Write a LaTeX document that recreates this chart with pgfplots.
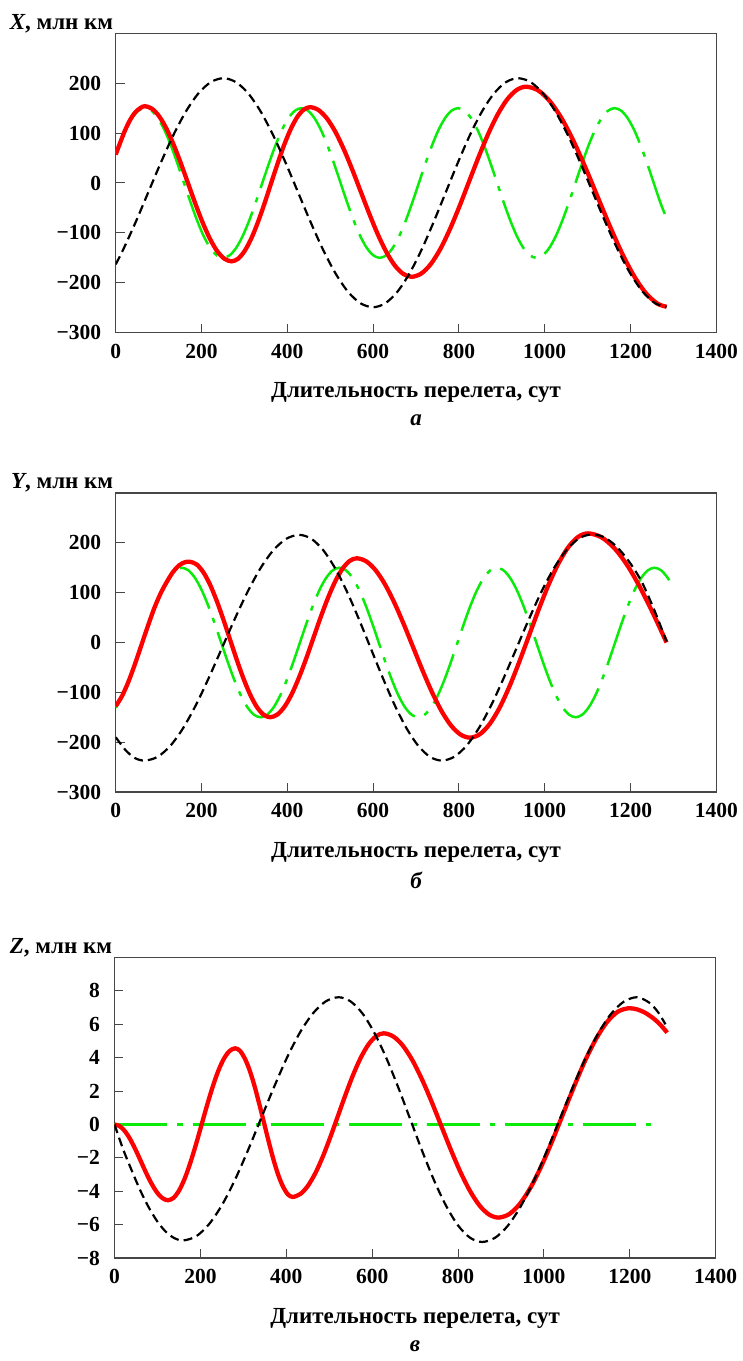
\documentclass[border=0pt]{standalone}
\usepackage{fontspec}
\setmainfont{Liberation Serif}
\usepackage{pgfplots}
\pgfplotsset{compat=1.18}
\definecolor{cred}{RGB}{255,0,0}
\definecolor{cgreen}{RGB}{10,235,10}
\definecolor{axgray}{RGB}{70,70,70}
\newcommand{\bigf}{\fontsize{23}{27}\selectfont\bfseries}
\newcommand{\tickf}{\fontsize{21.5}{25}\selectfont\bfseries}
\pgfplotsset{
  myaxis/.style={
    scale only axis, width=600.6pt, xmin=0, xmax=1400,
    axis line style={axgray, line width=1.3pt},
    tick style={axgray, line width=1pt},
    tick align=inside, tick pos=left, major tick length=9pt,
    xtick={0,200,400,600,800,1000,1200,1400},
    xticklabels={0,200,400,600,800,1000,1200,1400},
    ticklabel style={font=\tickf},
    xticklabel style={yshift=-8pt},
    yticklabel style={xshift=-11pt},
    every axis x label/.style={at={(rel axis cs:0.5,0)}, anchor=center, yshift=-60pt, font=\bigf},
    every axis y label/.style={at={(rel axis cs:0,1)}, anchor=base east, xshift=1pt, yshift=4pt, font=\bigf},
    xlabel={Длительность перелета, сут},
  },
  redl/.style={cred, line width=4.3pt, smooth},
  blkl/.style={black, line width=2.2pt, dash pattern=on 9pt off 5pt, smooth},
  grnl/.style={cgreen, line width=2.5pt, dash pattern=on 53pt off 10pt on 5pt off 10pt, smooth},
}
\begin{document}
\begin{tikzpicture}
\useasboundingbox (0,0) rectangle (743pt,1361pt);
% ---------------- panel a
\begin{axis}[myaxis, name=axa, at={(115.7pt,1028.3pt)}, anchor=south west,
  height=299.4pt, ymin=-300, ymax=300,
  ytick={-300,-200,-100,0,100,200},
  yticklabels={−300,−200,−100,0,100,200},
  ylabel={\textit{X}, млн км}]
\addplot[grnl] coordinates {(0,58.6) (7.2,75) (22.4,106.1) (37.6,129.9) (52.8,144.9) (68,150) (83.2,144.9) (98.4,129.9) (113.6,106.1) (128.8,75) (144,38.8) (159.2,0) (174.5,-38.8) (189.7,-75) (204.9,-106.1) (220.1,-129.9) (235.3,-144.9) (250.5,-150) (265.7,-144.9) (280.9,-129.9) (296.1,-106.1) (311.3,-75) (326.5,-38.8) (341.7,0) (357,38.8) (372.2,75) (387.4,106.1) (402.6,129.9) (417.8,144.9) (433,150) (448.2,144.9) (463.4,129.9) (478.6,106.1) (493.8,75) (509,38.8) (524.2,0) (539.4,-38.8) (554.7,-75) (569.9,-106.1) (585.1,-129.9) (600.3,-144.9) (615.5,-150) (630.7,-144.9) (645.9,-129.9) (661.1,-106.1) (676.3,-75) (691.5,-38.8) (706.7,0) (721.9,38.8) (737.2,75) (752.4,106.1) (767.6,129.9) (782.8,144.9) (798,150) (813.2,144.9) (828.4,129.9) (843.6,106.1) (858.8,75) (874,38.8) (889.2,0) (904.4,-38.8) (919.7,-75) (934.9,-106.1) (950.1,-129.9) (965.3,-144.9) (980.5,-150) (995.7,-144.9) (1010.9,-129.9) (1026.1,-106.1) (1041.3,-75) (1056.5,-38.8) (1071.7,0) (1086.9,38.8) (1102.1,75) (1117.4,106.1) (1132.6,129.9) (1147.8,144.9) (1163,150) (1178.2,144.9) (1193.4,129.9) (1208.6,106.1) (1223.8,75) (1239,38.8) (1254.2,0) (1269.4,-38.8) (1280,-62)};
\addplot[redl] coordinates {(0,57) (11,82) (22,106) (34,127) (45,141) (57,150) (68,154) (84.8,148.7) (101.7,133.2) (118.5,108.5) (135.3,76.3) (152.2,38.7) (169,-1.5) (185.8,-41.7) (202.7,-79.3) (219.5,-111.5) (236.3,-136.2) (253.2,-151.7) (270,-157) (285.3,-151.7) (300.5,-136.3) (315.8,-111.7) (331,-79.75) (346.3,-42.5) (361.5,-2.5) (376.8,37.5) (392,74.75) (407.3,106.7) (422.5,131.3) (437.8,146.7) (453,152) (472.8,146.2) (492.5,129.2) (512.3,102.2) (532,67) (551.8,26) (571.5,-18) (591.3,-62) (611,-103) (630.8,-138.2) (650.5,-165.2) (670.3,-182.2) (690,-188) (712.3,-181.5) (734.5,-162.5) (756.8,-132.2) (779,-92.75) (801.3,-46.8) (823.5,2.5) (845.8,51.8) (868,97.75) (890.3,137.2) (912.5,167.5) (934.8,186.5) (957,193) (984.8,185.5) (1012.5,163.4) (1040.3,128.3) (1068,82.5) (1095.8,29.2) (1123.5,-28) (1151.3,-85.2) (1179,-138.5) (1206.8,-184.3) (1234.5,-219.4) (1262.3,-241.5) (1284,-248)};
\addplot[blkl] coordinates {(0,-163) (17,-134.3) (46.3,-78.9) (75.5,-19.5) (104.8,39.9) (134,95.3) (163.3,142.8) (192.5,179.3) (221.8,202.2) (251,210) (280.1,202.2) (309.2,179.3) (338.2,142.8) (367.3,95.3) (396.4,39.9) (425.5,-19.5) (454.6,-78.9) (483.7,-134.3) (512.8,-181.8) (541.8,-218.3) (570.9,-241.2) (600,-249) (628.2,-241.2) (656.3,-218.3) (684.5,-181.8) (712.7,-134.3) (740.8,-78.9) (769,-19.5) (797.2,39.9) (825.3,95.3) (853.5,142.8) (881.7,179.3) (909.8,202.2) (938,210) (967.1,202.2) (996.2,179.3) (1025.2,142.8) (1054.3,95.3) (1083.4,39.9) (1112.5,-19.5) (1141.6,-78.9) (1170.7,-134.3) (1199.8,-181.8) (1228.8,-218.3) (1257.9,-241.2) (1284,-248.5)};
\end{axis}
\node[font=\bigf\itshape] at ([yshift=-88pt]axa.south) {а};
% ---------------- panel b
\begin{axis}[myaxis, name=axb, at={(115.7pt,569pt)}, anchor=south west,
  height=299pt, ymin=-300, ymax=300,
  ytick={-300,-200,-100,0,100,200},
  yticklabels={−300,−200,−100,0,100,200},
  ylabel={\textit{Y}, млн км}]
\addplot[grnl] coordinates {(0,-131) (16.3,-106.1) (31.6,-75) (46.9,-38.8) (62.2,0) (77.5,38.8) (92.8,75) (108.1,106.1) (123.4,129.9) (138.7,144.9) (154,150) (169.3,144.9) (184.6,129.9) (199.9,106.1) (215.2,75) (230.5,38.8) (245.8,0) (261.1,-38.8) (276.4,-75) (291.7,-106.1) (307,-129.9) (322.3,-144.9) (337.6,-150) (353,-144.9) (368.3,-129.9) (383.6,-106.1) (398.9,-75) (414.2,-38.8) (429.5,0) (444.8,38.8) (460.1,75) (475.4,106.1) (490.7,129.9) (506,144.9) (521.3,150) (536.6,144.9) (551.9,129.9) (567.2,106.1) (582.5,75) (597.8,38.8) (613.1,0) (628.4,-38.8) (643.7,-75) (659,-106.1) (674.3,-129.9) (689.6,-144.9) (704.9,-150) (720.2,-144.9) (735.6,-129.9) (750.9,-106.1) (766.2,-75) (781.5,-38.8) (796.8,0) (812.1,38.8) (827.4,75) (842.7,106.1) (858,129.9) (873.3,144.9) (888.6,150) (903.9,144.9) (919.2,129.9) (934.5,106.1) (949.8,75) (965.1,38.8) (980.4,0) (995.7,-38.8) (1011,-75) (1026.3,-106.1) (1041.6,-129.9) (1056.9,-144.9) (1072.2,-150) (1087.5,-144.9) (1102.8,-129.9) (1118.2,-106.1) (1133.5,-75) (1148.8,-38.8) (1164.1,0) (1179.4,38.8) (1194.7,75) (1210,106.1) (1225.3,129.9) (1240.6,144.9) (1255.9,150) (1271.2,144.9) (1286.5,129.9) (1299,111)};
\addplot[redl] coordinates {(0,-128) (15,-107) (30,-78) (45,-43) (60,-5) (75,33) (90,69) (105,99) (120,123) (134,142) (148,155) (161,161) (173,162) (188.6,156.7) (204.2,141.1) (219.8,116.3) (235.3,84) (250.9,46.4) (266.5,6) (282.1,-34.4) (297.7,-72) (313.3,-104.3) (328.8,-129.1) (344.4,-144.7) (360,-150) (376.8,-144.6) (393.7,-128.6) (410.5,-103.3) (427.3,-70.25) (444.2,-31.8) (461,9.5) (477.8,50.8) (494.7,89.25) (511.5,122.3) (528.3,147.6) (545.2,163.6) (562,169) (584,162.9) (606,144.9) (628,116.3) (650,79) (672,35.6) (694,-11) (716,-57.6) (738,-101) (760,-138.3) (782,-166.9) (804,-184.9) (826,-191) (848.9,-184) (871.8,-163.5) (894.8,-131) (917.7,-88.5) (940.6,-39.1) (963.5,14) (986.4,67.1) (1009.3,116.5) (1032.3,159) (1055.2,191.5) (1078.1,212) (1101,219) (1131.5,211.5) (1162,189.7) (1192.5,154.9) (1223,109.5) (1253.5,56.7) (1284,0)};
\addplot[blkl] coordinates {(0,-190) (23,-216) (45,-232) (68,-237) (98,-229.3) (128,-206.7) (158,-170.7) (188,-123.75) (218,-69.1) (248,-10.5) (278,48.1) (308,102.75) (338,149.7) (368,185.7) (398,208.3) (428,216) (455.7,208.3) (483.3,185.7) (511,149.7) (538.7,102.75) (566.3,48.1) (594,-10.5) (621.7,-69.1) (649.3,-123.75) (677,-170.7) (704.7,-206.7) (732.3,-229.3) (760,-237) (789.2,-229.3) (818.3,-206.6) (847.5,-170.5) (876.7,-123.5) (905.8,-68.7) (935,-10) (964.2,48.7) (993.3,103.5) (1022.5,150.5) (1051.7,186.6) (1080.8,209.3) (1110,217) (1139,211) (1168,192) (1197,162) (1226,122) (1255,66) (1284,2)};
\end{axis}
\node[font=\bigf\itshape] at ([yshift=-88pt]axb.south) {б};
% ---------------- panel c
\begin{axis}[myaxis, name=axc, at={(114.5pt,103pt)}, anchor=south west,
  width=601.2pt, height=300.5pt, ymin=-8, ymax=10,
  ytick={-8,-6,-4,-2,0,2,4,6,8},
  yticklabels={−8,−6,−4,−2,0,2,4,6,8},
  ylabel={\textit{Z}, млн км}]
\addplot[grnl] coordinates {(0,0) (1262,0)};
\addplot[redl] coordinates {(0,0) (10.4,-0.08) (20.8,-0.30) (31.3,-0.66) (41.7,-1.135) (52.1,-1.68) (62.5,-2.27) (72.9,-2.86) (83.3,-3.405) (93.8,-3.875) (104.2,-4.24) (114.6,-4.46) (125,-4.54) (138,-4.39) (151,-3.93) (164,-3.21) (177,-2.265) (190,-1.17) (203,0.01) (216,1.19) (229,2.285) (242,3.23) (255,3.95) (268,4.40) (281,4.56) (292.2,4.41) (303.3,3.96) (314.5,3.26) (325.7,2.335) (336.8,1.26) (348,0.11) (359.2,-1.04) (370.3,-2.115) (381.5,-3.04) (392.7,-3.74) (403.8,-4.19) (415,-4.34) (432.7,-4.17) (450.3,-3.68) (468,-2.905) (485.7,-1.89) (503.3,-0.71) (521,0.56) (538.7,1.83) (556.3,3.01) (574,4.025) (591.7,4.80) (609.3,5.29) (627,5.46) (649.3,5.27) (671.5,4.72) (693.8,3.84) (716,2.70) (738.3,1.37) (760.5,-0.06) (782.8,-1.49) (805,-2.82) (827.3,-3.96) (849.5,-4.84) (871.8,-5.39) (894,-5.58) (919.3,-5.37) (944.5,-4.74) (969.8,-3.74) (995,-2.445) (1020.3,-0.93) (1045.5,0.69) (1070.8,2.31) (1096,3.825) (1121.3,5.12) (1146.5,6.12) (1171.8,6.75) (1197,6.96) (1217,6.89) (1237,6.67) (1257,6.31) (1272,5.95) (1287,5.5)};
\addplot[blkl] coordinates {(0,0) (20,-1.48) (40,-2.75) (60,-3.95) (80,-4.98) (100,-5.82) (120,-6.44) (140,-6.82) (160,-6.95) (190.2,-6.70) (220.3,-5.97) (250.5,-4.82) (280.7,-3.31) (310.8,-1.55) (341,0.34) (371.2,2.22) (401.3,3.98) (431.5,5.49) (461.7,6.64) (491.8,7.37) (522,7.62) (549.8,7.37) (577.7,6.64) (605.5,5.47) (633.3,3.96) (661.2,2.19) (689,0.29) (716.8,-1.61) (744.7,-3.38) (772.5,-4.89) (800.3,-6.06) (828.2,-6.79) (856,-7.04) (886.1,-6.79) (916.2,-6.06) (946.3,-4.89) (976.3,-3.38) (1006.4,-1.61) (1036.5,0.29) (1066.6,2.19) (1096.7,3.96) (1126.8,5.47) (1156.8,6.64) (1186.9,7.37) (1217,7.62) (1245,7.3) (1265,6.75) (1283,6.0)};
\end{axis}
\node[font=\bigf\itshape] at ([yshift=-88pt]axc.south) {в};
\end{tikzpicture}
\end{document}
